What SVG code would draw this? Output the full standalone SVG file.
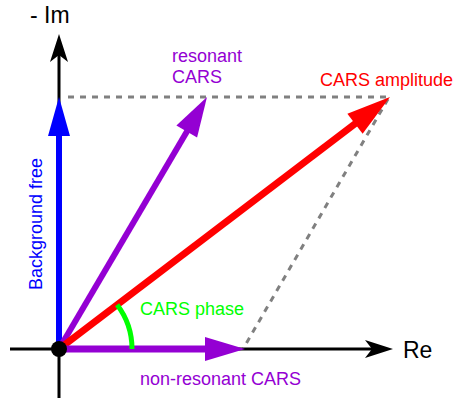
<svg xmlns="http://www.w3.org/2000/svg" width="460" height="398" viewBox="0 0 460 398">
<style>
text{font-family:"Liberation Sans",Arial,sans-serif;font-size:18px}
.ax{stroke:#000;stroke-width:3;fill:none}
.dash{stroke:#808080;stroke-width:3;stroke-dasharray:6 6;fill:none}
</style>
<defs>
<path id="axhead" d="M0,0 L-28,-9 L-21,0 L-28,9 Z"/>
<path id="head" d="M0,0 L-40,-12 L-40,12 Z"/>
</defs>
<g id="connectors">
<line class="dash" x1="68" y1="97" x2="390" y2="97"/>
<line class="dash" x1="388" y1="99" x2="243" y2="349"/>
<line class="ax" x1="59" y1="398" x2="59" y2="50"/>
<use href="#axhead" transform="translate(59,34) rotate(-90)" fill="#000"/>
<line class="ax" x1="10" y1="349" x2="380" y2="349"/>
<use href="#axhead" transform="translate(393,349)" fill="#000"/>
</g>
<g id="background-free">
<line x1="59" y1="349" x2="59" y2="130" stroke="#0000ff" stroke-width="6"/>
<path d="M59,97 L48,136 L70,136 Z" fill="#0000ff"/>
<text transform="translate(42,224) rotate(-90)" text-anchor="middle" fill="#0000ff">Background free</text>
</g>
<g id="resonant">
<line x1="59" y1="349" x2="189" y2="128" stroke="#9400d3" stroke-width="6"/>
<use href="#head" transform="translate(207,97) rotate(-59.57)" fill="#9400d3"/>
<text x="172" y="62" fill="#9400d3">resonant</text>
<text x="172" y="83" fill="#9400d3">CARS</text>
</g>
<g id="amplitude">
<line x1="59" y1="349" x2="360" y2="120" stroke="#ff0000" stroke-width="7"/>
<use href="#head" transform="translate(390,97) rotate(-37.28) scale(1.1,1.05)" fill="#ff0000"/>
<text x="320" y="86" fill="#ff0000">CARS amplitude</text>
</g>
<g id="nonresonant">
<line x1="59" y1="349" x2="210" y2="349" stroke="#9400d3" stroke-width="7"/>
<use href="#head" transform="translate(245,349)" fill="#9400d3"/>
<text x="140" y="385" fill="#9400d3">non-resonant CARS</text>
</g>
<g id="phase">
<path d="M132,349 A73,73 0 0 0 117.1,304.8" stroke="#00ff00" stroke-width="5" fill="none"/>
<text x="140" y="315" fill="#00ff00">CARS phase</text>
</g>
<g id="origin">
<circle cx="59" cy="349" r="8" fill="#000"/>
</g>
<g id="labels">
<text x="30" y="23" style="font-size:23px">- Im</text>
<text x="403" y="358" style="font-size:23px">Re</text>
</g>
</svg>
